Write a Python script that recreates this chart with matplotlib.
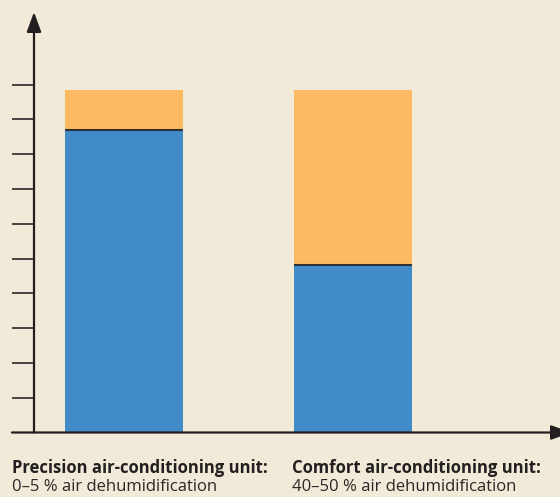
import matplotlib.pyplot as plt

units = ['Precision air-conditioning unit:', 'Comfort air-conditioning unit:']
notes = ['0\u20135 % air dehumidification', '40\u201350 % air dehumidification']
sensible = [87.0, 48.0]
latent = [11.4, 50.4]
ticks = [10, 20, 30, 40, 50, 60, 70, 80, 90, 100]

bg = '#f2ead8'
blue = '#428bc9'
orange = '#fdba63'
dark = '#231f20'

W, H = 560, 497
fig = plt.figure(figsize=(W / 100, H / 100), dpi=100, facecolor=bg)

# axes box in pixels: y axis at x=34, zero line at y=432.5, top at y=12
x0, x1 = 34, 555
y0, ytop = 432.5, 12
ax = fig.add_axes([x0 / W, (H - y0) / H, (x1 - x0) / W, (y0 - ytop) / H])
ax.set_facecolor(bg)
unit_px = 34.8 / 10
ax.set_ylim(0, (y0 - ytop) / unit_px)
ax.set_xlim(-90 / 229, 1 + (555 - 353) / 229)

pos = [0, 1]
wbar = 118 / 229
ax.bar(pos, sensible, width=wbar, color=blue, linewidth=0)
ax.bar(pos, latent, width=wbar, bottom=sensible, color=orange, linewidth=0)
for p, s in zip(pos, sensible):
    ax.plot([p - wbar / 2, p + wbar / 2], [s, s], color='#2e3135', lw=1.5,
            solid_capstyle='butt')

for sp in ax.spines.values():
    sp.set_visible(False)
ax.set_xticks([])
ax.set_yticks(ticks)
ax.set_yticklabels([])
ax.tick_params(axis='y', length=16, width=1.3, color='#3a3636', direction='out')

# axis lines with arrows
astyle = '-|>,head_length=0.6,head_width=0.22'
ax.annotate('', xy=(0, 1), xytext=(0, 0), xycoords='axes fraction',
            arrowprops=dict(arrowstyle=astyle, mutation_scale=20, color=dark,
                            lw=1.6, shrinkA=0, shrinkB=0), annotation_clip=False)
ax.annotate('', xy=((571 - x0) / (x1 - x0), 0), xytext=(-(x0 - 12) / (x1 - x0), 0),
            xycoords='axes fraction',
            arrowprops=dict(arrowstyle=astyle, mutation_scale=20, color=dark,
                            lw=1.6, shrinkA=0, shrinkB=0), annotation_clip=False)

font = ['Open Sans', 'DejaVu Sans']
for xp, u, n in zip([12, 292], units, notes):
    fig.text(xp / W, 1 - 473 / H, u, fontsize=12, fontweight='bold',
             family=font, color=dark, va='baseline')
    fig.text(xp / W, 1 - 491 / H, n, fontsize=12, family=font,
             color='#2b2728', va='baseline')

fig.savefig('out.png', dpi=100, facecolor=bg)
